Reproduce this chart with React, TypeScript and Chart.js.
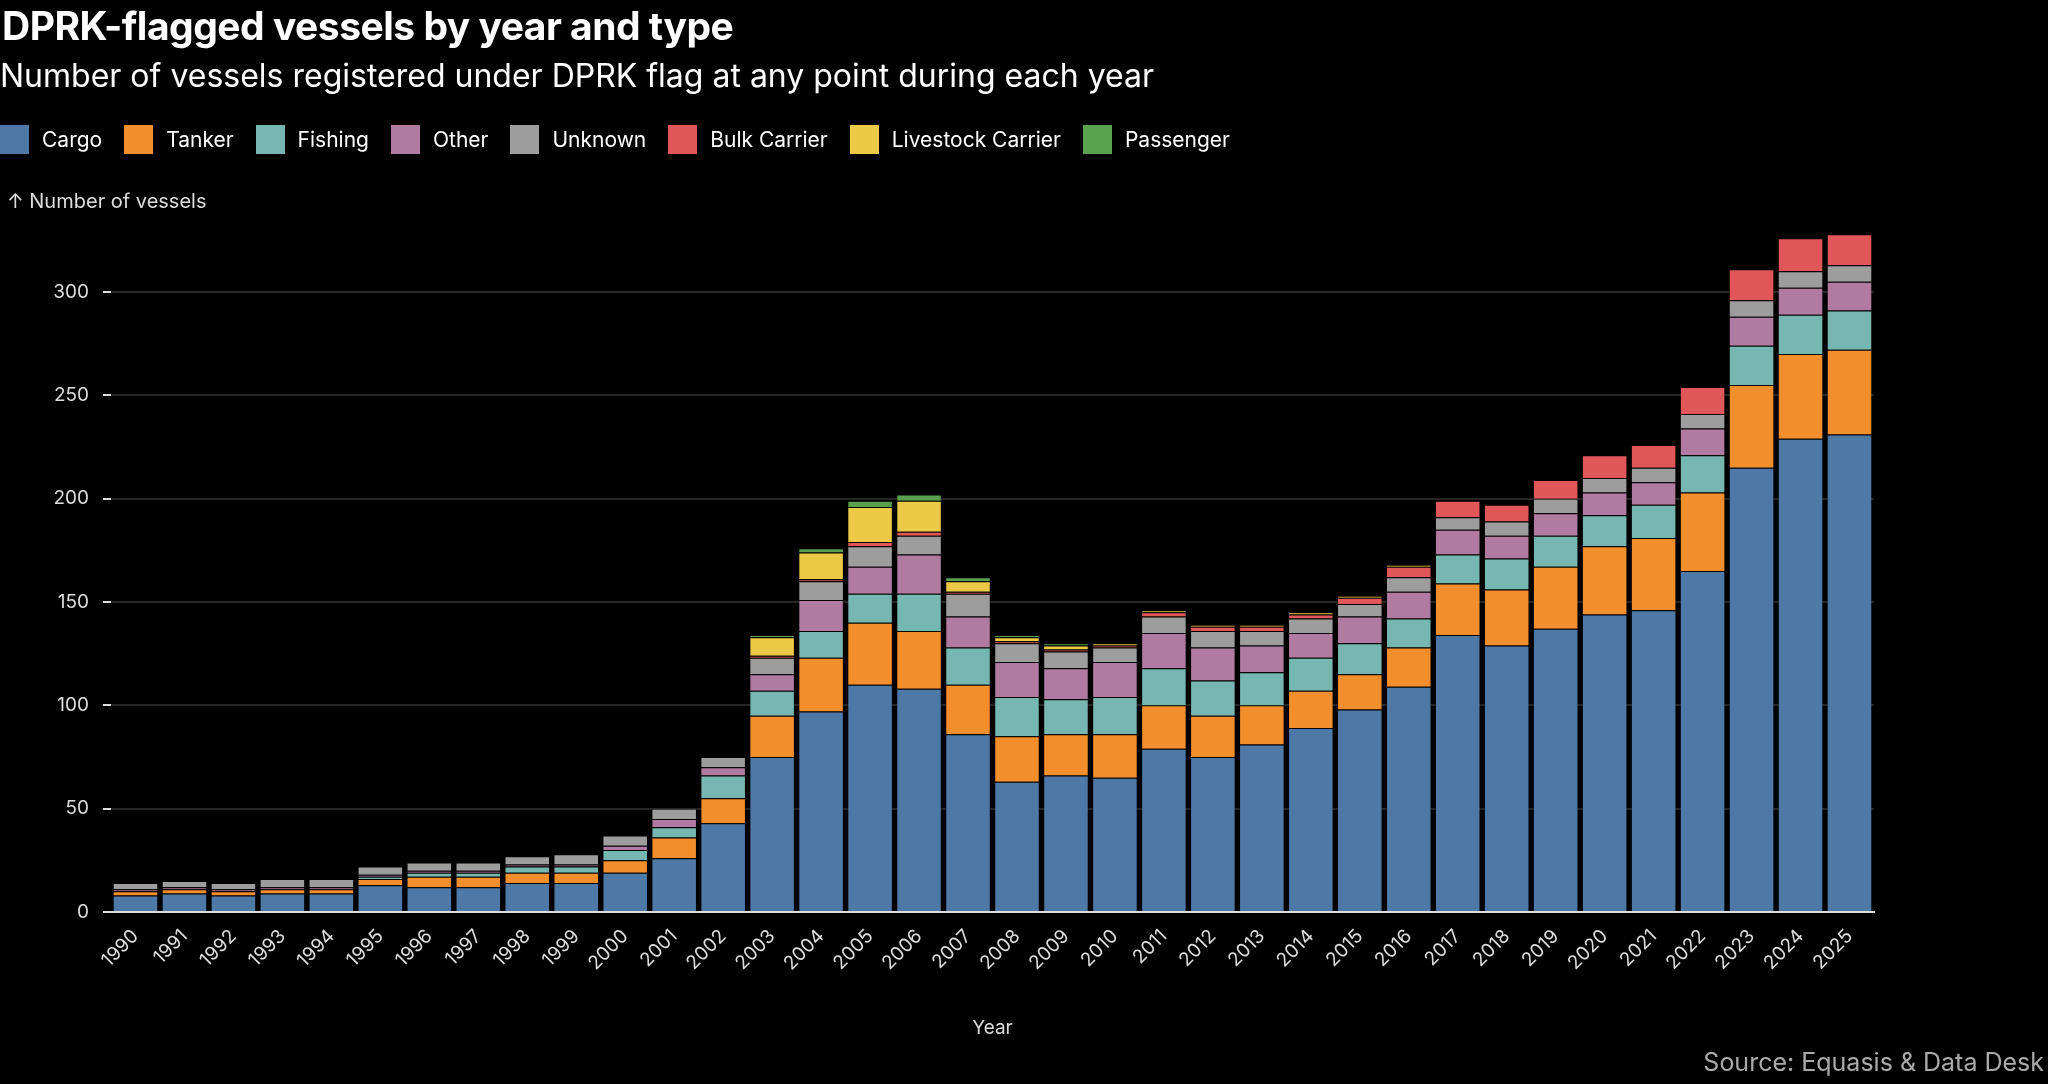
import React, { useEffect, useRef } from "react";
import { Chart, registerables } from "chart.js";
Chart.register(...registerables);

const years = ["1990","1991","1992","1993","1994","1995","1996","1997","1998","1999","2000","2001","2002","2003","2004","2005","2006","2007","2008","2009","2010","2011","2012","2013","2014","2015","2016","2017","2018","2019","2020","2021","2022","2023","2024","2025"];
const cargo =     [8,9,8,9,9,13,12,12,14,14,19,26,43,75,97,110,108,86,63,66,65,79,75,81,89,98,109,134,129,137,144,146,165,215,229,231];
const tanker =    [2,2,2,2,2,3,5,5,5,5,6,10,12,20,26,30,28,24,22,20,21,21,20,19,18,17,19,25,27,30,33,35,38,40,41,41];
const fishing =   [0,0,0,0,0,1,2,2,3,3,5,5,11,12,13,14,18,18,19,17,18,18,17,16,16,15,14,14,15,15,15,16,18,19,19,19];
const other =     [1,1,1,1,1,1,1,1,1,1,2,4,4,8,15,13,19,15,17,15,17,17,16,13,12,13,13,12,11,11,11,11,13,14,13,14];
const unknown =   [3,3,3,4,4,4,4,4,4,5,5,5,5,8,9,10,9,11,9,8,7,8,8,7,7,6,7,6,7,7,7,7,7,8,8,8];
const bulk =      [0,0,0,0,0,0,0,0,0,0,0,0,0,1,1,2,2,1,1,1,1,2,2,2,2,3,5,8,8,9,11,11,13,15,16,15];
const livestock = [0,0,0,0,0,0,0,0,0,0,0,0,0,9,13,17,15,5,2,2,1,1,1,1,1,1,1,0,0,0,0,0,0,0,0,0];
const passenger = [0,0,0,0,0,0,0,0,0,0,0,0,0,1,2,3,3,2,1,1,0,0,0,0,0,0,0,0,0,0,0,0,0,0,0,0];

const seriesNames = ["Cargo","Tanker","Fishing","Other","Unknown","Bulk Carrier","Livestock Carrier","Passenger"];
const seriesData = [cargo, tanker, fishing, other, unknown, bulk, livestock, passenger];
const seriesColors = ["#4e79a7","#f28e2b","#76b7b2","#b07aa1","#9d9d9d","#e15759","#edc948","#59a14f"];

const FONT = "Inter, 'Noto Sans', sans-serif";

export default function App() {
  const ref = useRef<HTMLCanvasElement>(null);
  useEffect(() => {
    document.body.style.margin = "0";
    document.body.style.background = "#000";
    const chart = new Chart(ref.current!, {
      type: "bar",
      data: {
        labels: years,
        datasets: seriesNames.map((n, i) => ({
          label: n,
          data: seriesData[i],
          backgroundColor: seriesColors[i],
          borderColor: "rgba(0,0,0,0.25)",
          borderWidth: 1,
          barPercentage: 0.93,
          categoryPercentage: 1,
        })),
      },
      options: {
        animation: false,
        responsive: false,
        maintainAspectRatio: false,
        layout: { padding: { top: 230, right: 174, bottom: 40, left: 0 } },
        plugins: { legend: { display: false }, tooltip: { enabled: false } },
        scales: {
          x: {
            stacked: true,
            grid: { display: false, drawTicks: true, tickLength: 10, tickColor: "#ddd" },
            border: { color: "#ddd", width: 2 },
            ticks: { color: "#ddd", font: { family: FONT, size: 19 }, maxRotation: 45, minRotation: 45, autoSkip: false },
            title: { display: true, text: "Year", color: "#ddd", font: { family: FONT, size: 19 } },
            afterFit: (s: any) => { s.height = 132; },
          },
          y: {
            stacked: true,
            min: 0,
            max: 330,
            afterBuildTicks: (s: any) => { s.ticks = [0,50,100,150,200,250,300].map(v => ({ value: v })); },
            grid: { color: "#262626", lineWidth: 2, tickColor: "#ddd", tickLength: 8 },
            border: { display: false },
            ticks: { color: "#ddd", font: { family: FONT, size: 19 }, padding: 14 },
            afterFit: (s: any) => { s.width = 111; },
          },
        },
      },
    });
    return () => chart.destroy();
  }, []);

  const legendItems = seriesNames.map((n, i) => (
    <div key={n} style={{ display: "flex", alignItems: "center", marginRight: 22 }}>
      <span style={{ width: 29, height: 29, background: seriesColors[i], display: "inline-block", marginRight: 13 }} />
      <span>{n}</span>
    </div>
  ));

  return (
    <div style={{ position: "relative", width: 2048, height: 1084, background: "#000", fontFamily: FONT, color: "#fff", overflow: "hidden" }}>
      <canvas ref={ref} width={2048} height={1084} style={{ position: "absolute", left: 0, top: 0 }} />
      <div style={{ position: "absolute", left: 2, top: 2, fontSize: 39, fontWeight: 700, letterSpacing: -0.5 }}>DPRK-flagged vessels by year and type</div>
      <div style={{ position: "absolute", left: 0, top: 56, fontSize: 32 }}>Number of vessels registered under DPRK flag at any point during each year</div>
      <div style={{ position: "absolute", left: 0, top: 125, fontSize: 21, display: "flex" }}>{legendItems}</div>
      <div style={{ position: "absolute", left: 7, top: 189, fontSize: 20, color: "#ddd" }}>↑ Number of vessels</div>
      <div style={{ position: "absolute", right: 4, top: 1047, fontSize: 25, color: "#aaa" }}>Source: Equasis &amp; Data Desk</div>
    </div>
  );
}
